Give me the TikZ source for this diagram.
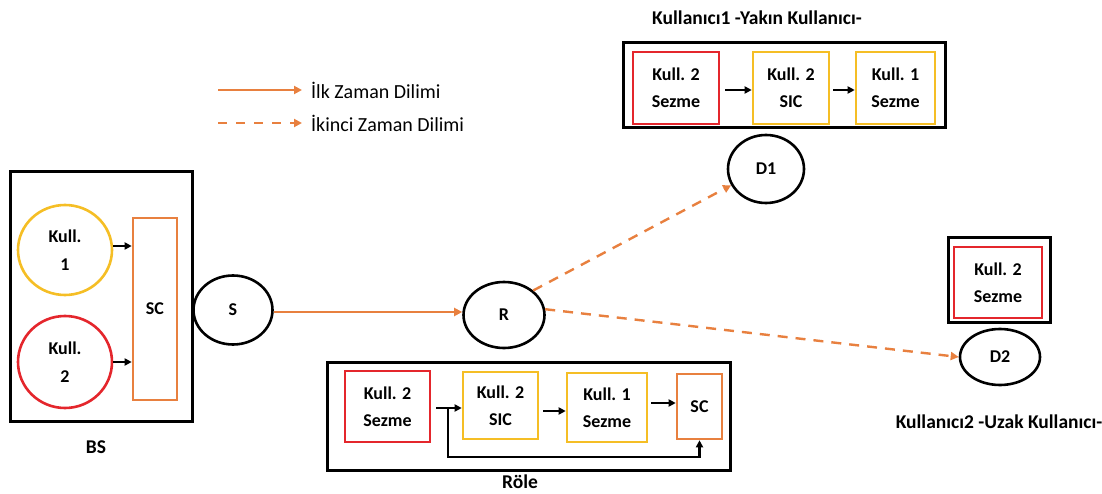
\documentclass[tikz,border=0pt]{standalone}
\usepackage{fontspec}
\setmainfont{Carlito}
\usetikzlibrary{arrows.meta,shapes.geometric}
\definecolor{kgold}{HTML}{F5BE25}
\definecolor{kred}{HTML}{E4262C}
\definecolor{korange}{HTML}{E8803F}
\begin{document}
\begin{tikzpicture}[x=1pt,y=-1pt,
  every node/.style={font=\fontsize{18}{21}\selectfont\bfseries, align=center, inner sep=0pt},
  outerbox/.style={draw=black, line width=3pt},
  redbox/.style={draw=kred, line width=2.6pt},
  goldbox/.style={draw=kgold, line width=2.6pt},
  orbox/.style={draw=korange, line width=2.6pt},
  oval/.style={ellipse, draw=black, line width=2.6pt},
  barrow/.style={draw=black, line width=2.4pt, -{Triangle[length=7pt,width=7pt]}},
  oarrow/.style={draw=korange, line width=2.4pt, -{Triangle[length=8pt,width=8pt]}},
  odash/.style={oarrow, dash pattern=on 10pt off 8pt},
  caption/.style={font=\fontsize{19.5}{22}\selectfont\bfseries},
  legendtext/.style={anchor=west, font=\fontsize{20}{22}\selectfont}
]
\useasboundingbox (0,0) rectangle (1102,494);

% ---------- legend ----------
\coordinate (l1a) at (218,90);  \coordinate (l1b) at (302,90);
\coordinate (l2a) at (218,123); \coordinate (l2b) at (302,123);
\draw[oarrow] (l1a) -- (l1b);
\draw[odash, dash pattern=on 9pt off 9pt] (l2a) -- (l2b);
\node[legendtext] (t1) at (311,90) {İlk Zaman Dilimi};
\node[legendtext] (t2) at (311,123) {İkinci Zaman Dilimi};

% ---------- base station ----------
\node[outerbox, minimum width=182, minimum height=249] (bs) at (101,296.5) {};
\node[caption] (bslbl) at (96,447) {BS};
\node[ellipse, draw=kgold, line width=2.6pt, minimum width=94, minimum height=90] (k1) at (65,250) {Kull.\\[7pt]1};
\node[ellipse, draw=kred, line width=2.6pt, minimum width=94, minimum height=92] (k2) at (65,362) {Kull.\\[7pt]2};
\node[orbox, minimum width=44, minimum height=182] (sc) at (155,309) {SC};
\draw[barrow] (k1.east |- 0,246) -- (sc.west |- 0,246);
\draw[barrow] (k2.east |- 0,362) -- (sc.west |- 0,362);

% ---------- source and relay ----------
\node[oval, minimum width=79, minimum height=69] (s) at (233,310) {S};
\node[oval, minimum width=81, minimum height=66] (r) at (504,315) {R};
\draw[oarrow] (s.east |- 0,312) -- (r.west |- 0,312);

% ---------- relay processing ----------
\node[outerbox, minimum width=403, minimum height=108] (rbox) at (528.5,416) {};
\node[redbox, minimum width=85, minimum height=71] (rs2) at (387.5,406.5) {Kull. 2\\[6pt]Sezme};
\node[goldbox, minimum width=75, minimum height=67] (rsic) at (500.5,405.5) {Kull. 2\\[6pt]SIC};
\node[goldbox, minimum width=80, minimum height=69] (rs1) at (607,407.5) {Kull. 1\\[6pt]Sezme};
\node[orbox, minimum width=45, minimum height=65] (rsc) at (699.5,406.5) {SC};
\coordinate (fb) at (448,408);
\draw[barrow] (rs2.east |- 0,408) ++(5,0) -- (rsic.west |- 0,408);
\draw[barrow] (rsic.east |- 0,411) ++(4,0) -- (rs1.west |- 0,411);
\draw[barrow] (rs1.east |- 0,403) ++(3,0) -- (rsc.west |- 0,403);
\draw[barrow] (fb) -- (448,457) -| (rsc.south);
\node[caption] (rlbl) at (520,482) {Röle};

% ---------- near user ----------
\node[caption] (u1lbl) at (757,18) {Kullanıcı1 -Yakın Kullanıcı-};
\node[outerbox, minimum width=322, minimum height=85] (ubox) at (784,85.5) {};
\node[redbox, minimum width=86, minimum height=72] (us2) at (676,88) {Kull. 2\\[6pt]Sezme};
\node[goldbox, minimum width=76, minimum height=72] (usic) at (791,88) {Kull. 2\\[6pt]SIC};
\node[goldbox, minimum width=79, minimum height=72] (us1) at (895.5,88) {Kull. 1\\[6pt]Sezme};
\draw[barrow] (us2.east |- 0,90) ++(5,0) -- (usic.west |- 0,90);
\draw[barrow] (usic.east |- 0,90) ++(3,0) -- (us1.west |- 0,90);
\node[oval, minimum width=76, minimum height=68] (d1) at (766,169) {D1};

% ---------- far user ----------
\node[outerbox, minimum width=102, minimum height=84] (fbox) at (999,280) {};
\node[redbox, minimum width=88, minimum height=71] (fs2) at (998,282.5) {Kull. 2\\[6pt]Sezme};
\node[oval, minimum width=80, minimum height=56] (d2) at (1000,357) {D2};
\node[caption] (u2lbl) at (999,422) {Kullanıcı2 -Uzak Kullanıcı-};

% ---------- second time slot ----------
\draw[odash] (r.40) -- (d1.205);
\draw[odash] (r.8) -- (d2.west);
\end{tikzpicture}
\end{document}
